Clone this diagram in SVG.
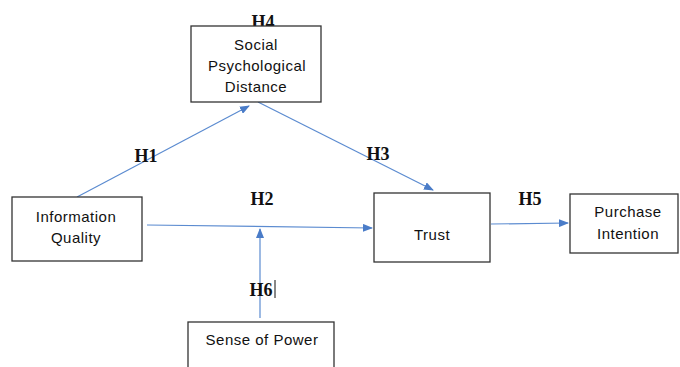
<svg xmlns="http://www.w3.org/2000/svg" width="680" height="367" viewBox="0 0 680 367">
<style>
.box{fill:#fff;stroke:#333;stroke-width:1.3}
.t{font-family:"Liberation Sans",Arial,sans-serif;font-size:15px;fill:#111;text-anchor:middle;letter-spacing:0.5px}
.h{font-family:"Liberation Serif","Times New Roman",serif;font-size:18px;font-weight:bold;fill:#111;text-anchor:middle}
.c{stroke:#5b8bd0;stroke-width:1.2;fill:none;marker-end:url(#ah)}
</style>
<defs>
<marker id="ah" markerWidth="10" markerHeight="8" refX="9" refY="4" orient="auto" markerUnits="userSpaceOnUse">
<path d="M0,0 L10,4 L0,8 Z" fill="#4a7cc8"/>
</marker>
</defs>
<rect width="680" height="367" fill="#fff"/>
<text class="h" x="263" y="28">H4</text>
<g id="connectors">
<line class="c" x1="77" y1="197" x2="249" y2="106"/>
<line class="c" x1="258" y1="102" x2="433" y2="190"/>
<line class="c" x1="147" y1="225" x2="372" y2="228"/>
<line class="c" x1="491" y1="224" x2="568" y2="223"/>
<line class="c" x1="260" y1="318" x2="260" y2="229"/>
</g>
<g id="social">
<rect class="box" x="191" y="26" width="130" height="76"/>
<text class="t" x="256" y="50">Social</text>
<text class="t" x="257" y="71">Psychological</text>
<text class="t" x="256" y="92">Distance</text>
</g>
<g id="info">
<rect class="box" x="12" y="197" width="130" height="64"/>
<text class="t" x="76" y="222">Information</text>
<text class="t" x="76" y="243">Quality</text>
</g>
<g id="trust">
<rect class="box" x="374" y="193" width="116" height="69"/>
<text class="t" x="432" y="240">Trust</text>
</g>
<g id="purchase">
<rect class="box" x="570" y="194" width="108" height="59"/>
<text class="t" x="628" y="217">Purchase</text>
<text class="t" x="628" y="239">Intention</text>
</g>
<g id="power">
<rect class="box" x="188" y="322" width="146" height="60"/>
<text class="t" x="262" y="345">Sense of Power</text>
</g>
<g id="labels">
<text class="h" x="146" y="162">H1</text>
<text class="h" x="262" y="205">H2</text>
<text class="h" x="378" y="160">H3</text>
<text class="h" x="530" y="205">H5</text>
<text class="h" x="261" y="296">H6</text>
<line x1="275" y1="280" x2="275" y2="298" stroke="#111" stroke-width="1"/>
</g>
</svg>
